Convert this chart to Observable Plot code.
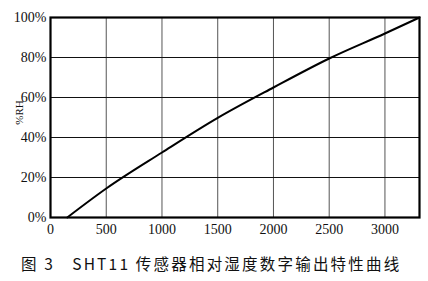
<!DOCTYPE html>
<html>
<head>
<meta charset="utf-8">
<script src="https://cdn.jsdelivr.net/npm/d3@7"></script>
<script src="https://cdn.jsdelivr.net/npm/@observablehq/plot@0.6"></script>
<style>
  html, body { margin: 0; padding: 0; background: #fff; }
  #chart { width: 428px; }
  #caption {
    width: 428px; height: 36px; box-sizing: border-box;
    padding-left: 21px; padding-top: 7px;
    font-family: "Noto Sans CJK SC", "Liberation Serif", serif;
    font-size: 15.5px; color: #111; letter-spacing: 2.2px; white-space: pre;
  }
</style>
</head>
<body>
<div id="chart"></div>
<div id="caption"></div>
<script>
// Sensor output (SO_RH) vs relative humidity
const soValues = [150, 500, 1000, 1500, 2000, 2500, 3000, 3310];
const rhValues = [0, 14.5, 32.5, 49.8, 65, 79.5, 92, 100];
const xTicks = [0, 500, 1000, 1500, 2000, 2500, 3000];
const yTicks = [0, 20, 40, 60, 80, 100];
const yLabel = "%RH";
const captionText = "图 3   SHT11 传感器相对湿度数字输出特性曲线";

const data = soValues.map((so, i) => ({so, rh: rhValues[i]}));

const plot = Plot.plot({
  width: 428,
  height: 245,
  marginLeft: 50,
  marginRight: 9,
  marginTop: 17,
  marginBottom: 28,
  style: {fontFamily: "'Liberation Serif', 'DejaVu Serif', serif", fontSize: "14px", color: "#111", background: "#fff"},
  x: {domain: [0, 3310]},
  y: {domain: [0, 100]},
  marks: [
    Plot.ruleX(xTicks.slice(1), {x: d => d, stroke: "#555", strokeWidth: 1}),
    Plot.ruleY(yTicks.slice(1, -1), {y: d => d, stroke: "#111", strokeWidth: 1.2}),
    Plot.axisX({ticks: xTicks, tickSize: 0, tickPadding: 7, tickFormat: d => String(d), label: null, fontSize: 14, style: {letterSpacing: "1px"}}),
    Plot.axisY({ticks: yTicks, tickSize: 0, tickPadding: 4, tickFormat: d => d + "%", label: null, fontSize: 14}),
    Plot.text([yLabel], {frameAnchor: "left", textAnchor: "middle", lineAnchor: "middle", dx: -31, dy: -5, rotate: -90, fontSize: 11, fill: "#111"}),
    Plot.line(data, {x: "so", y: "rh", curve: "monotone-x", stroke: "#000", strokeWidth: 2}),
    Plot.frame({stroke: "#000", strokeWidth: 2.2})
  ]
});
document.getElementById("chart").appendChild(plot);
document.getElementById("caption").textContent = captionText;
</script>
</body>
</html>
